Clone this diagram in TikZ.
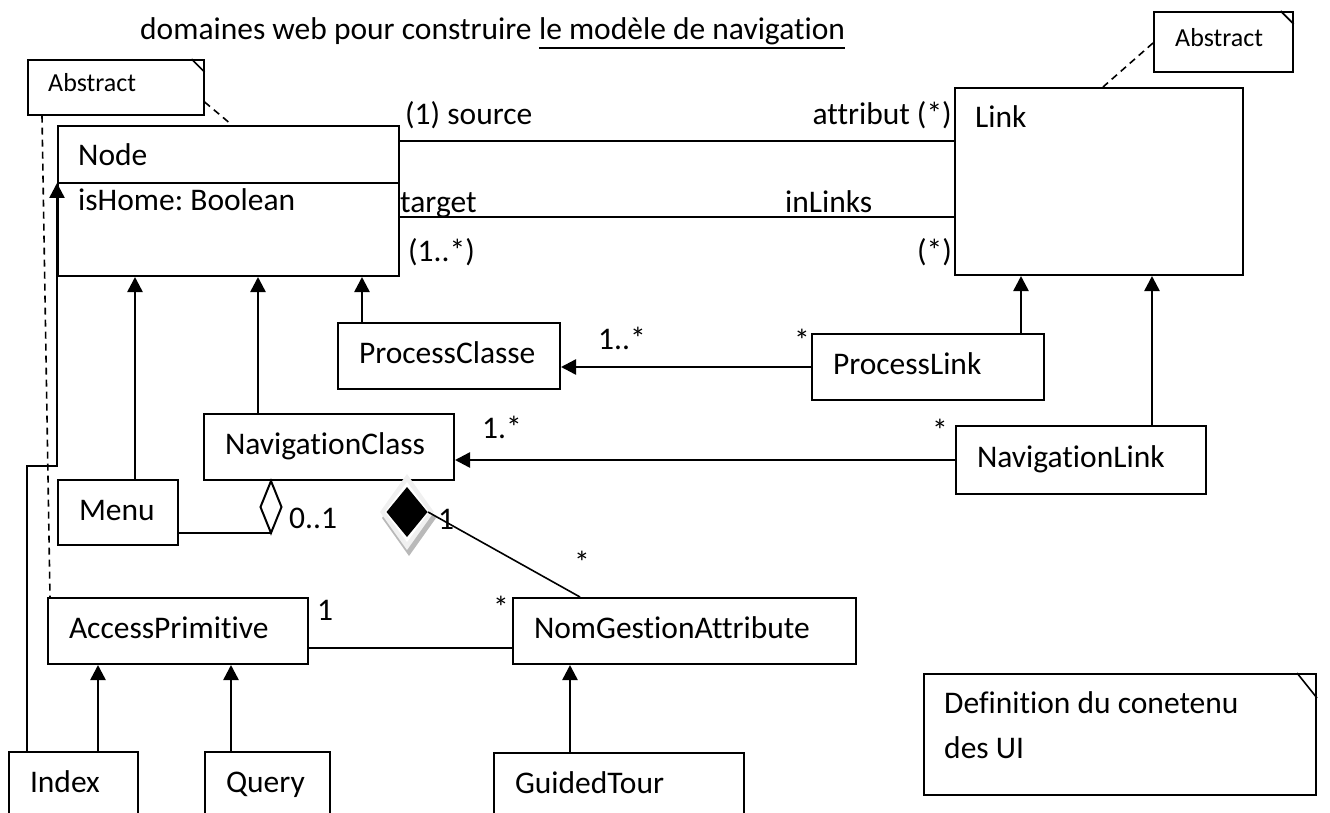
\documentclass[tikz,border=0pt]{standalone}
\usepackage{fontspec}
\setmainfont{Carlito}[Ligatures={NoCommon,NoContextual}]
\usetikzlibrary{arrows.meta,positioning}
\hyphenpenalty=10000
\exhyphenpenalty=10000
\frenchspacing

\begin{document}
\begin{tikzpicture}[x=1pt,y=-1pt,
  font=\fontsize{31.5}{38}\selectfont,
  cls/.style={draw,line width=2pt,anchor=north west,inner xsep=21pt,inner ysep=0pt,align=left,
    text height=21pt,text depth=6pt},
  note/.style={draw,line width=1.6pt,anchor=north west,inner sep=0pt},
  txt/.style={anchor=base west,inner sep=0pt},
  small/.style={font=\fontsize{26}{30}\selectfont},
  gen/.style={-{Triangle[length=15pt,width=15pt]},line width=2.5pt},
  assoc/.style={line width=2pt},
  dep/.style={line width=1.6pt,dash pattern=on 7pt off 5pt}]
  \useasboundingbox (0,0) rectangle (1330,813);
  \clip (0,0) rectangle (1330,813);

  % titre
  \node[txt] (title) at (140,40) {domaines web pour construire};
  \node[txt] (titleu) at ([xshift=7pt]title.base east) {le modèle de navigation};
  \draw[line width=2pt] ([yshift=-8pt]titleu.base west) -- ([yshift=-8pt]titleu.base east);

  % notes
  \node[note,minimum width=176pt,minimum height=55pt] (absL) at (27,59) {};
  \draw[line width=1.6pt] ([xshift=-13pt]absL.north east) -- ([yshift=-13pt]absL.north east);
  \node[txt,small] (absLtxt) at (48,92) {Abstract};
  \node[note,minimum width=139pt,minimum height=60pt] (absR) at (1153,11) {};
  \draw[line width=1.6pt] ([xshift=-13pt]absR.north east) -- ([yshift=-13pt]absR.north east);
  \node[txt,small] (absRtxt) at (1175,47) {Abstract};
  \node[note,line width=2pt,minimum width=392pt,minimum height=121pt] (def) at (923,673) {};
  \draw[line width=1.6pt] ([xshift=-20pt]def.north east) -- ([yshift=-25pt]def.north east);
  \node[txt] (deftxt1) at (944,713) {Definition du conetenu};
  \node[txt] (deftxt2) at (944,758) {des UI};

  % classes
  \node[cls,minimum width=341pt,minimum height=150pt] (node) at (57,125) {};
  \draw[line width=2pt] ([yshift=-58pt]node.north west) -- ([yshift=-58pt]node.north east);
  \node[txt] (nodename) at (78,166) {Node};
  \node[txt] (nodeattr) at (78,211) {isHome: Boolean};
  \node[cls,minimum width=288pt,minimum height=187pt] (link) at (954,87) {};
  \node[txt] (linkname) at (975,128) {Link};
  \node[cls,text width=180pt,minimum height=66pt] (pclass) at (337,322) {ProcessClasse};
  \node[cls,text width=190pt,minimum height=66pt] (plink) at (811,333) {ProcessLink};
  \node[cls,text width=208pt,minimum height=66pt] (nclass) at (203,413) {NavigationClass};
  \node[cls,text width=208pt,minimum height=68pt] (nlink) at (955,425) {NavigationLink};
  \node[cls,text width=78pt,minimum height=65pt] (menu) at (57,479) {Menu};
  \node[cls,text width=218pt,minimum height=66pt] (access) at (47,597) {AccessPrimitive};
  \node[cls,text width=301pt,minimum height=66pt] (nomg) at (512,597) {NomGestionAttribute};
  \node[cls,text width=87pt,minimum height=66pt] (index) at (8,751) {Index};
  \node[cls,text width=83pt,minimum height=66pt] (query) at (204,751) {Query};
  \node[cls,text width=208pt,minimum height=66pt] (guided) at (493,752) {GuidedTour};

  % liens Abstract
  \draw[dep] ([yshift=-43pt]absL.north east) -- ([xshift=175pt]node.north west);
  \draw[dep] ([xshift=15pt]absL.south west) -- ([xshift=3pt]access.north west);
  \draw[dep] ([yshift=-32pt]absR.north west) -- ([xshift=149pt]link.north west);

  % associations Node -- Link
  \draw[assoc] ([yshift=-16pt]node.north east) -- ([yshift=-16pt]node.north east -| link.west);
  \draw[assoc] ([yshift=-92pt]node.north east) -- ([yshift=-92pt]node.north east -| link.west);
  \node[txt] (lsrc) at (405,125) {(1) source};
  \node[txt,anchor=base east] (lattr) at (952,125) {attribut (*)};
  \node[txt] (ltgt) at (400,213) {target};
  \node[txt] (linl) at (785,213) {inLinks};
  \node[txt] (lm1) at (408,261) {(1..*)};
  \node[txt,anchor=base east] (lm2) at (952,261) {(*)};

  % heritage
  \draw[gen] ([xshift=25pt]pclass.north west) -- ([xshift=25pt]pclass.north west |- node.south);
  \draw[gen] ([xshift=55pt]nclass.north west) -- ([xshift=55pt]nclass.north west |- node.south);
  \draw[gen] ([xshift=78pt]menu.north west) -- ([xshift=78pt]menu.north west |- node.south);
  \draw[gen] ([xshift=210pt]plink.north west) -- ([xshift=210pt]plink.north west |- link.south);
  \draw[gen] ([xshift=197pt]nlink.north west) -- ([xshift=197pt]nlink.north west |- link.south);
  \draw[gen] ([xshift=90pt]index.north west) -- ([xshift=90pt]index.north west |- access.south);
  \draw[gen] ([xshift=27pt]query.north west) -- ([xshift=27pt]query.north west |- access.south);
  \draw[gen] ([xshift=77pt]guided.north west) -- ([xshift=77pt]guided.north west |- nomg.south);
  \coordinate (ibend) at (57,466);
  \draw[gen] ([xshift=19pt]index.north west) |- (ibend) -- ([yshift=-58pt]node.north west);

  % navigation
  \draw[gen] (plink.west) -- (plink.west -| pclass.east);
  \node[txt] (pm1) at (598,349) {1..*};
  \node[txt] (pm2) at (794,351) {*};
  \draw[gen] (nlink.west) -- (nlink.west -| nclass.east);
  \node[txt] (nm1) at (482,438) {1.*};
  \node[txt] (nm2) at (932,441) {*};

  % agregation Menu
  \coordinate (aggtip) at ([xshift=68pt]nclass.south west);
  \draw[assoc,fill=white] (aggtip) -- ++(10.5,26) -- ++(-10.5,26) -- ++(-10.5,-26) -- cycle;
  \coordinate (aggend) at ([yshift=-52pt]aggtip);
  \draw[assoc] (aggend -| menu.east) -- (aggend);
  \node[txt] (am1) at (289,528) {0..1};

  % composition NomGestionAttribute
  \coordinate (comp) at (407,512);
  \fill[gray!55] ([xshift=2pt,yshift=-4pt]comp) ++(0,-36) -- ++(27,38) -- ++(-27,38) -- ++(-27,-38) -- cycle;
  \fill[gray!12] (comp) ++(0,-38) -- ++(27,38) -- ++(-27,38) -- ++(-27,-38) -- cycle;
  \fill[white] (comp) ++(0,-30) -- ++(22,30) -- ++(-22,30) -- ++(-22,-30) -- cycle;
  \fill[black] (comp) ++(0,-25) -- ++(20.5,25) -- ++(-20.5,25) -- ++(-20.5,-25) -- cycle;
  \draw[line width=1.6pt] ([xshift=21pt]comp) -- ([xshift=68pt]nomg.north west);
  \node[txt] (cm1) at (438,529) {1};
  \node[txt] (cm2) at (574,573) {*};

  % AccessPrimitive -- NomGestionAttribute
  \draw[assoc] ([yshift=-17pt]access.east) -- ([yshift=-17pt]access.east -| nomg.west);
  \node[txt] (gm1) at (317,620) {1};
  \node[txt] (gm2) at (493,618) {*};
\end{tikzpicture}
\end{document}
